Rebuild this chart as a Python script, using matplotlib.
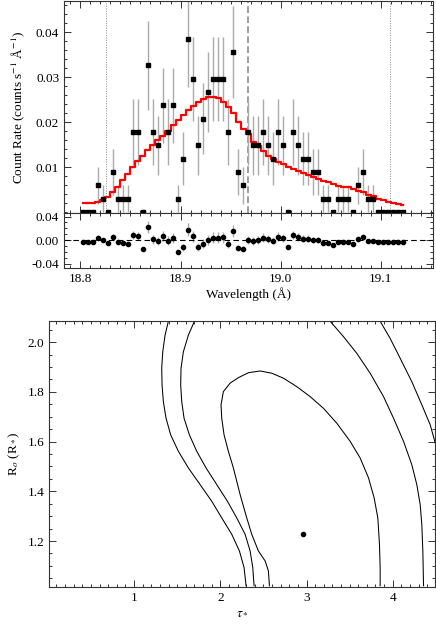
import numpy as np
import matplotlib
matplotlib.use("Agg")
import matplotlib.pyplot as plt
from matplotlib.ticker import MultipleLocator, FixedLocator, FormatStrFormatter

plt.rcParams['font.family'] = ['Liberation Serif', 'DejaVu Serif']
plt.rcParams['mathtext.fontset'] = 'stix'
plt.rcParams['font.size'] = 9.5

# --- spectrum (O VIII line), 0.005 A bins ---
bin_start = 18.8025
bin_width = 0.005
count_unit = 0.00297   # count rate of a single count

counts = [0, 0, 0, 2, 1, 0, 3, 1, 1, 1,
          6, 6, 0, 11, 6, 5, 8, 6, 8, 1,
          4, 13, 10, 5, 7, 9, 10, 10, 10, 6,
          12, 3, 2, 6, 5, 5, 6, 5, 4, 6,
          5, 0, 6, 5, 4, 4, 3, 3, 1, 1,
          0, 1, 1, 1, 0, 2, 3, 1, 1, 0,
          0, 0, 0, 0, 0]

model = [0.0020, 0.0020, 0.0020, 0.0022, 0.0027, 0.0033, 0.0044, 0.0057, 0.0072, 0.0085,
         0.0100, 0.0114, 0.0126, 0.0138, 0.0150, 0.0161, 0.0170, 0.0181, 0.0194, 0.0205,
         0.0216, 0.0227, 0.0236, 0.0246, 0.0252, 0.0257, 0.0257, 0.0253, 0.0246, 0.0235,
         0.0221, 0.0200, 0.0185, 0.0174, 0.0157, 0.0148, 0.0135, 0.0125, 0.0118, 0.0112,
         0.0107, 0.0101, 0.0096, 0.0092, 0.0087, 0.0083, 0.0078, 0.0074, 0.0070, 0.0066,
         0.0062, 0.0058, 0.0056, 0.0055, 0.0051, 0.0047, 0.0044, 0.0039, 0.0035, 0.0030,
         0.0026, 0.0023, 0.0020, 0.0018, 0.0015]

resid = [-0.0029, -0.0029, -0.0029, 0.0039, 0.0000, -0.0041, 0.0051, -0.0034, -0.0051, -0.0068,
         0.0090, 0.0073, -0.0153, 0.0220, 0.0017, -0.0017, 0.0078, -0.0007, 0.0044, -0.0203,
         -0.0119, 0.0180, 0.0068, -0.0114, -0.0058, 0.0005, 0.0039, 0.0039, 0.0050, -0.0063,
         0.0158, -0.0130, -0.0142, 0.0005, -0.0012, 0.0005, 0.0045, 0.0022, -0.0006, 0.0062,
         0.0039, -0.0119, 0.0085, 0.0056, 0.0028, 0.0028, 0.0005, 0.0005, -0.0040, -0.0045,
         -0.0074, -0.0029, -0.0029, -0.0034, -0.0057, 0.0017, 0.0050, -0.0012, -0.0012, -0.0029,
         -0.0029, -0.0029, -0.0023, -0.0023, -0.0023]

line_center = 18.967
vinf_lines = [18.826, 19.109]

# --- confidence contours in (tau_*, R_o) ---
inner_tau = [2.570, 2.558, 2.520, 2.442, 2.365, 2.307, 2.230, 2.152, 2.094, 2.044,
             2.017, 2.009, 2.036, 2.114, 2.210, 2.326, 2.462, 2.597, 2.732, 2.887,
             3.042, 3.196, 3.351, 3.506, 3.622, 3.719, 3.784, 3.827, 3.846, 3.854, 3.854]
inner_r = [1.020, 1.080, 1.120, 1.160, 1.227, 1.293, 1.387, 1.494, 1.561, 1.627,
           1.694, 1.748, 1.801, 1.835, 1.857, 1.877, 1.884, 1.875, 1.855, 1.821,
           1.781, 1.734, 1.674, 1.601, 1.534, 1.454, 1.374, 1.293, 1.187, 1.093, 1.020]

mid_left_tau = [1.700, 1.630, 1.572, 1.545, 1.541, 1.553, 1.580, 1.642, 1.727, 1.835,
                1.959, 2.083, 2.191, 2.288, 2.346, 2.377, 2.392]
mid_left_r = [2.084, 2.028, 1.961, 1.895, 1.828, 1.761, 1.694, 1.627, 1.561, 1.494,
              1.427, 1.360, 1.293, 1.227, 1.160, 1.093, 1.020]
mid_right_tau = [3.274, 3.429, 3.583, 3.738, 3.893, 4.009, 4.125, 4.221, 4.279, 4.318,
                 4.337, 4.349, 4.357]
mid_right_r = [2.084, 2.022, 1.955, 1.875, 1.781, 1.694, 1.601, 1.507, 1.427, 1.347,
               1.267, 1.160, 1.020]

out_left_tau = [1.398, 1.360, 1.333, 1.321, 1.325, 1.340, 1.371, 1.425, 1.514, 1.630,
                1.766, 1.901, 2.017, 2.133, 2.222, 2.276, 2.299]
out_left_r = [2.084, 2.028, 1.961, 1.895, 1.828, 1.761, 1.694, 1.627, 1.561, 1.494,
              1.427, 1.360, 1.293, 1.227, 1.160, 1.093, 1.020]
out_right_tau = [3.854, 3.970, 4.086, 4.221, 4.337, 4.434, 4.496]
out_right_r = [2.084, 2.015, 1.935, 1.841, 1.748, 1.668, 1.590]

best_tau = 2.96
best_r = 1.227

# ------------------------------------------------------------------
counts = np.array(counts)
wave = bin_start + bin_width * np.arange(len(counts))
rate = counts * count_unit
err = np.sqrt(counts) * count_unit

W, H = 436, 633
fig = plt.figure(figsize=(W / 100, H / 100), dpi=100)

def rect(l, r, t, b):
    return [l / W, 1 - b / H, (r - l) / W, (b - t) / H]

frame = '#333333'
grey = '#ababab'

def style(ax):
    for s in ax.spines.values():
        s.set_color(frame)
        s.set_linewidth(0.8)
    ax.tick_params(which='both', direction='in', top=True, right=True,
                   color=frame, width=0.7, labelsize=9.5)
    ax.tick_params(which='major', length=5)
    ax.tick_params(which='minor', length=2.5)

ax1 = fig.add_axes(rect(64, 433, 1, 213))
ax2 = fig.add_axes(rect(64, 433, 213, 268), sharex=ax1)
ax3 = fig.add_axes(rect(49, 435, 321, 587))

# top: data + model
ax1.errorbar(wave, rate, yerr=err, fmt='none', ecolor=grey, elinewidth=1.0, zorder=1)
ax1.plot(wave, model, drawstyle='steps-mid', color='red', lw=1.6, zorder=2)
ax1.plot(wave, rate, 's', color='k', ms=3.1, zorder=3)
for v in vinf_lines:
    ax1.axvline(v, color='#8c8c8c', lw=0.7, ls=(0, (1, 1.5)), zorder=0)
ax1.axvline(line_center, color='#8c8c8c', lw=1.2, ls=(0, (4, 2)), zorder=0)
ax1.set_xlim(18.7837, 19.152)
ax1.set_ylim(-0.0002, 0.047)
ax1.yaxis.set_major_locator(FixedLocator([0.01, 0.02, 0.03, 0.04]))
ax1.yaxis.set_minor_locator(MultipleLocator(0.002))
ax1.yaxis.set_major_formatter(FormatStrFormatter('%.2f'))
ax1.set_ylabel('Count Rate (counts s$^{-1}$ Å$^{-1}$)', labelpad=6)
style(ax1)
ax1.tick_params(labelbottom=False)

# residuals
ax2.errorbar(wave, resid, yerr=err, fmt='none', ecolor=grey, elinewidth=1.0, zorder=1)
ax2.plot(wave, resid, 'o', color='k', ms=3.0, zorder=3)
ax2.axhline(0, color='k', lw=0.8, ls=(0, (5, 3)), zorder=2)
ax2.set_ylim(-0.047, 0.046)
ax2.yaxis.set_major_locator(FixedLocator([-0.04, 0.0, 0.04]))
ax2.yaxis.set_minor_locator(MultipleLocator(0.01))
ax2.yaxis.set_major_formatter(FormatStrFormatter('%.2f'))
ax2.xaxis.set_major_locator(MultipleLocator(0.1))
ax2.xaxis.set_minor_locator(MultipleLocator(0.01))
ax2.xaxis.set_major_formatter(FormatStrFormatter('%.1f'))
ax2.set_xlabel('Wavelength (Å)', labelpad=2)
style(ax2)

# contours
for t, r in [(inner_tau, inner_r), (mid_left_tau, mid_left_r), (mid_right_tau, mid_right_r),
             (out_left_tau, out_left_r), (out_right_tau, out_right_r)]:
    ax3.plot(t, r, color='k', lw=0.75)
ax3.plot(best_tau, best_r, 'o', color='k', ms=3.0)
ax3.set_xlim(0.014, 4.49)
ax3.set_ylim(1.015, 2.085)
ax3.xaxis.set_major_locator(MultipleLocator(1))
ax3.xaxis.set_minor_locator(MultipleLocator(0.1))
ax3.yaxis.set_major_locator(MultipleLocator(0.2))
ax3.yaxis.set_minor_locator(MultipleLocator(0.05))
ax3.yaxis.set_major_formatter(FormatStrFormatter('%.1f'))
ax3.set_xlabel(r'$\tau_*$', labelpad=2)
ax3.set_ylabel(r'R$_o$ (R$_*$)', labelpad=4)
style(ax3)

fig.savefig('out.png', dpi=100)
